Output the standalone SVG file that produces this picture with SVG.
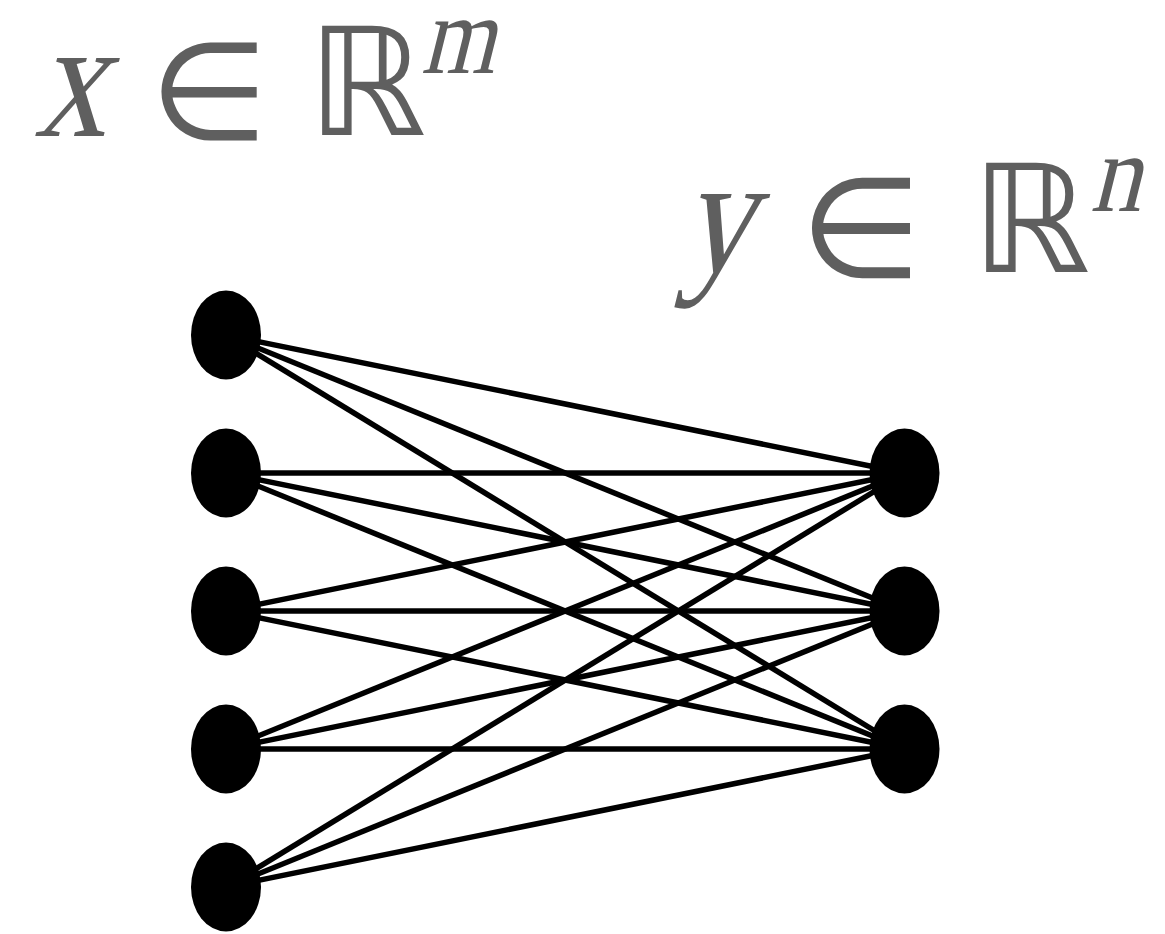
<svg xmlns="http://www.w3.org/2000/svg" width="1165" height="934" viewBox="0 0 1165 934">
  <style>
    .lbl { fill: #5f5f5f; }
    .var { font-family: "Liberation Serif", "Times New Roman", serif; }
    .sym { font-family: "DejaVu Sans", sans-serif; }
    .edge { stroke: #000; stroke-width: 5.5; }
    .node { fill: #000; }
  </style>
  <rect width="1165" height="934" fill="#fff"/>

  <!-- input space label (variables slanted about their baseline) -->
  <g id="label-x" class="lbl">
    <text class="var" transform="translate(34,136) skewX(-14) scale(0.84,1)" font-size="170">x</text>
    <text class="sym" x="209" y="139" font-size="136" text-anchor="middle">∈</text>
    <text class="sym" x="367" y="135" font-size="150" text-anchor="middle">ℝ</text>
    <text class="var" transform="translate(421,73) skewX(-14) scale(0.84,1)" font-size="112">m</text>
  </g>

  <!-- output space label -->
  <g id="label-y" class="lbl">
    <text class="var" transform="translate(680,272) skewX(-14) scale(0.84,1)" font-size="170">y</text>
    <text class="sym" x="861" y="277" font-size="140" text-anchor="middle">∈</text>
    <text class="sym" x="1031" y="272" font-size="150" text-anchor="middle">ℝ</text>
    <text class="var" transform="translate(1090,211) skewX(-14) scale(0.9,1)" font-size="112">n</text>
  </g>

  <!-- full connections: every input to every output -->
  <g id="connectors" class="edge">
    <line x1="226" y1="335" x2="904.5" y2="473"/>
    <line x1="226" y1="335" x2="904.5" y2="611"/>
    <line x1="226" y1="335" x2="904.5" y2="749"/>
    <line x1="226" y1="473" x2="904.5" y2="473"/>
    <line x1="226" y1="473" x2="904.5" y2="611"/>
    <line x1="226" y1="473" x2="904.5" y2="749"/>
    <line x1="226" y1="611" x2="904.5" y2="473"/>
    <line x1="226" y1="611" x2="904.5" y2="611"/>
    <line x1="226" y1="611" x2="904.5" y2="749"/>
    <line x1="226" y1="749" x2="904.5" y2="473"/>
    <line x1="226" y1="749" x2="904.5" y2="611"/>
    <line x1="226" y1="749" x2="904.5" y2="749"/>
    <line x1="226" y1="887" x2="904.5" y2="473"/>
    <line x1="226" y1="887" x2="904.5" y2="611"/>
    <line x1="226" y1="887" x2="904.5" y2="749"/>
  </g>

  <!-- input layer -->
  <g id="in1"><ellipse class="node" cx="226" cy="335" rx="35" ry="44.5"/></g>
  <g id="in2"><ellipse class="node" cx="226" cy="473" rx="35" ry="44.5"/></g>
  <g id="in3"><ellipse class="node" cx="226" cy="611" rx="35" ry="44.5"/></g>
  <g id="in4"><ellipse class="node" cx="226" cy="749" rx="35" ry="44.5"/></g>
  <g id="in5"><ellipse class="node" cx="226" cy="887" rx="35" ry="44.5"/></g>

  <!-- output layer -->
  <g id="out1"><ellipse class="node" cx="904.5" cy="473" rx="35" ry="44.5"/></g>
  <g id="out2"><ellipse class="node" cx="904.5" cy="611" rx="35" ry="44.5"/></g>
  <g id="out3"><ellipse class="node" cx="904.5" cy="749" rx="35" ry="44.5"/></g>
</svg>
